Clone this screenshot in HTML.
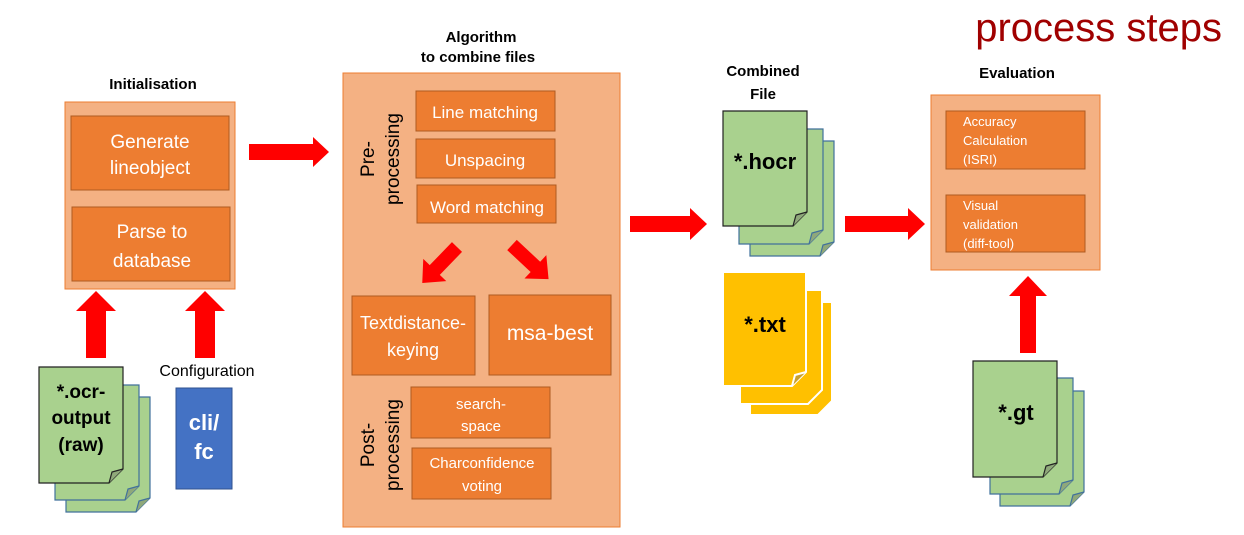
<!DOCTYPE html>
<html><head><meta charset="utf-8"><style>
html,body{margin:0;padding:0;background:#fff;}
svg{display:block;}
text{font-family:"Liberation Sans","DejaVu Sans",sans-serif;}
</style></head><body>
<svg width="1244" height="535" viewBox="0 0 1244 535" xmlns="http://www.w3.org/2000/svg">
<defs>
<g id="docG">
</g>
</defs>
<rect width="1244" height="535" fill="#fff"/>
<text x="1222" y="41" font-size="40" fill="#a00000" text-anchor="end">process steps</text>

<!-- Initialisation -->
<text x="153" y="89" font-size="15" font-weight="bold" text-anchor="middle">Initialisation</text>
<rect x="65" y="102" width="170" height="187" fill="#f4b183" stroke="#ed7d31" stroke-width="1"/>
<rect x="71" y="116" width="158" height="74" fill="#ed7d31" stroke="#ae5a21"/>
<text x="150" y="148" font-size="19" fill="#fff" text-anchor="middle">Generate</text>
<text x="150" y="174" font-size="19" fill="#fff" text-anchor="middle">lineobject</text>
<rect x="72" y="207" width="158" height="74" fill="#ed7d31" stroke="#ae5a21"/>
<text x="152" y="238" font-size="19" fill="#fff" text-anchor="middle">Parse to</text>
<text x="152" y="267" font-size="19" fill="#fff" text-anchor="middle">database</text>

<!-- arrows -->
<polygon points="249,144 313,144 313,137 329,152 313,167 313,160 249,160" fill="#f00"/>
<polygon points="86,358 86,311 76,311 96,291 116,311 106,311 106,358" fill="#f00"/>
<polygon points="195,358 195,311 185,311 205,291 225,311 215,311 215,358" fill="#f00"/>
<polygon points="630,216 690,216 690,208 707,224 690,240 690,232 630,232" fill="#f00"/>
<polygon points="845,216 908,216 908,208 925,224 908,240 908,232 845,232" fill="#f00"/>
<polygon points="1020,353 1020,296 1009,296 1028,276 1047,296 1036,296 1036,353" fill="#f00"/>

<text x="207" y="376" font-size="16" text-anchor="middle">Configuration</text>
<rect x="176" y="388" width="56" height="101" fill="#4472c4" stroke="#2f528f"/>
<text x="204" y="430" font-size="22" font-weight="bold" fill="#fff" text-anchor="middle">cli/</text>
<text x="204" y="459" font-size="22" font-weight="bold" fill="#fff" text-anchor="middle">fc</text>

<!-- ocr docs -->
<g stroke-width="1.2">
<path d="M66,397 H150 V498 L136,512 H66 Z" fill="#a9d18e" stroke="#41719c"/>
<path d="M136,512 L139,501 L150,498" fill="#8fa87a" stroke="#41719c"/>
<path d="M55,385 H139 V486 L125,500 H55 Z" fill="#a9d18e" stroke="#41719c"/>
<path d="M125,500 L128,489 L139,486" fill="#8fa87a" stroke="#41719c"/>
<path d="M39,367 H123 V469 L109,483 H39 Z" fill="#a9d18e" stroke="#222"/>
<path d="M109,483 L112,472 L123,469" fill="#8fa87a" stroke="#222"/>
</g>
<text x="81" y="398" font-size="19" font-weight="bold" text-anchor="middle">*.ocr-</text>
<text x="81" y="424" font-size="19" font-weight="bold" text-anchor="middle">output</text>
<text x="81" y="451" font-size="19" font-weight="bold" text-anchor="middle">(raw)</text>

<!-- Algorithm -->
<text x="481" y="42" font-size="15" font-weight="bold" text-anchor="middle">Algorithm</text>
<text x="478" y="62" font-size="15" font-weight="bold" text-anchor="middle">to combine files</text>
<rect x="343" y="73" width="277" height="454" fill="#f4b183" stroke="#ed7d31"/>
<g fill="#ed7d31" stroke="#ae5a21">
<rect x="416" y="91" width="139" height="40"/>
<rect x="416" y="139" width="139" height="39"/>
<rect x="417" y="185" width="139" height="38"/>
<rect x="352" y="296" width="123" height="79"/>
<rect x="489" y="295" width="122" height="80"/>
<rect x="411" y="387" width="139" height="51"/>
<rect x="412" y="448" width="139" height="51"/>
</g>
<g fill="#fff" text-anchor="middle" font-size="17">
<text x="485" y="118">Line matching</text>
<text x="485" y="166">Unspacing</text>
<text x="487" y="213">Word matching</text>
<text x="413" y="329" font-size="18">Textdistance-</text>
<text x="413" y="356" font-size="18">keying</text>
<text x="550" y="340" font-size="21">msa-best</text>
<text x="481" y="409" font-size="15">search-</text>
<text x="481" y="431" font-size="15">space</text>
<text x="482" y="468" font-size="15">Charconfidence</text>
<text x="482" y="491" font-size="15">voting</text>
</g>
<g font-size="19" text-anchor="middle">
<text transform="translate(374,159) rotate(-90)">Pre-</text>
<text transform="translate(399,159) rotate(-90)">processing</text>
<text transform="translate(374,445) rotate(-90)">Post-</text>
<text transform="translate(399,445) rotate(-90)">processing</text>
</g>
<!-- diagonal arrows -->
<polygon points="0,-7 32,-7 32,-16 50,0 32,16 32,7 0,7" fill="#f00" transform="translate(457,247) rotate(134)"/>
<polygon points="0,-7 32,-7 32,-16 50,0 32,16 32,7 0,7" fill="#f00" transform="translate(512,245) rotate(43)"/>

<!-- Combined file -->
<text x="763" y="76" font-size="15" font-weight="bold" text-anchor="middle">Combined</text>
<text x="763" y="99" font-size="15" font-weight="bold" text-anchor="middle">File</text>
<g stroke-width="1.2">
<path d="M750,141 H834 V242 L820,256 H750 Z" fill="#a9d18e" stroke="#41719c"/>
<path d="M820,256 L823,245 L834,242" fill="#8fa87a" stroke="#41719c"/>
<path d="M739,129 H823 V230 L809,244 H739 Z" fill="#a9d18e" stroke="#41719c"/>
<path d="M809,244 L812,233 L823,230" fill="#8fa87a" stroke="#41719c"/>
<path d="M723,111 H807 V212 L793,226 H723 Z" fill="#a9d18e" stroke="#222"/>
<path d="M793,226 L796,215 L807,212" fill="#8fa87a" stroke="#222"/>
</g>
<text x="765" y="169" font-size="22" font-weight="bold" text-anchor="middle">*.hocr</text>
<g stroke="#fff" stroke-width="2">
<path d="M750,302 H832 V401 L818,415 H750 Z" fill="#ffc000"/>
<path d="M740,290 H822 V390 L808,404 H740 Z" fill="#ffc000"/>
<path d="M723,272 H806 V372 L792,386 H723 Z" fill="#ffc000"/>
<path d="M792,386 L795,375 L806,372" fill="#c8a030"/>
</g>
<text x="765" y="332" font-size="22" font-weight="bold" text-anchor="middle">*.txt</text>

<!-- Evaluation -->
<text x="1017" y="78" font-size="15" font-weight="bold" text-anchor="middle">Evaluation</text>
<rect x="931" y="95" width="169" height="175" fill="#f4b183" stroke="#ed7d31"/>
<rect x="946" y="111" width="139" height="58" fill="#ed7d31" stroke="#ae5a21"/>
<rect x="946" y="195" width="139" height="57" fill="#ed7d31" stroke="#ae5a21"/>
<g fill="#fff" font-size="13">
<text x="963" y="126">Accuracy</text>
<text x="963" y="145">Calculation</text>
<text x="963" y="164">(ISRI)</text>
<text x="963" y="210">Visual</text>
<text x="963" y="229">validation</text>
<text x="963" y="248">(diff-tool)</text>
</g>
<g stroke-width="1.2">
<path d="M1000,391 H1084 V492 L1070,506 H1000 Z" fill="#a9d18e" stroke="#41719c"/>
<path d="M1070,506 L1073,495 L1084,492" fill="#8fa87a" stroke="#41719c"/>
<path d="M990,378 H1073 V480 L1059,494 H990 Z" fill="#a9d18e" stroke="#41719c"/>
<path d="M1059,494 L1062,483 L1073,480" fill="#8fa87a" stroke="#41719c"/>
<path d="M973,361 H1057 V463 L1043,477 H973 Z" fill="#a9d18e" stroke="#222"/>
<path d="M1043,477 L1046,466 L1057,463" fill="#8fa87a" stroke="#222"/>
</g>
<text x="1016" y="420" font-size="22" font-weight="bold" text-anchor="middle">*.gt</text>
</svg>
</body></html>
